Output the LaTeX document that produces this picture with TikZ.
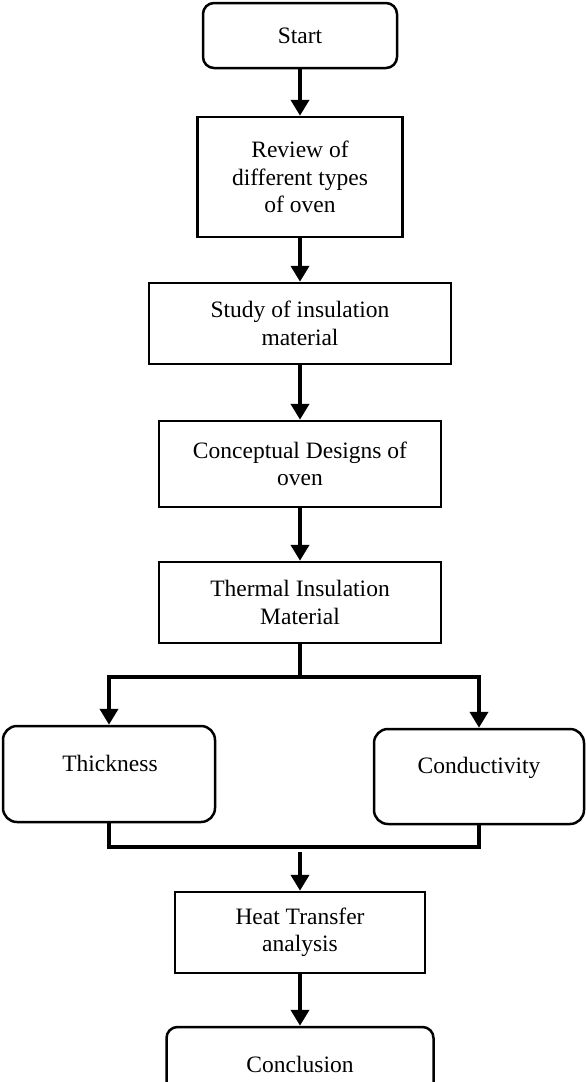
\documentclass[tikz,border=0pt]{standalone}
\usepackage{fontspec}
\setmainfont{Liberation Serif}
\usetikzlibrary{arrows.meta}

\begin{document}
\begin{tikzpicture}[x=1pt,y=-1pt,
    every node/.style={font=\fontsize{23.5}{27.5}\selectfont},
    stepbox/.style={draw, line width=2.5pt, align=center, inner sep=0pt},
    roundbox/.style={stepbox, rounded corners=11pt},
    flow/.style={line width=4pt, -{Triangle[width=18pt,length=16pt]}},
    link/.style={line width=3.2pt}]

      % keep the page at the size of the chart
      \clip (0,0) rectangle (586,1082);

      % main column of steps
      \node[roundbox, minimum width=194, minimum height=65] (start) at (300,35.5) {Start};
      \node[stepbox, minimum width=205, minimum height=120] (review) at (300,177)
        {Review of\\different types\\of oven};
      \node[stepbox, minimum width=302, minimum height=81] (study) at (300,323.5)
        {Study of insulation\\material};
      \node[stepbox, minimum width=282, minimum height=86] (concept) at (300,464)
        {Conceptual Designs of\\oven};
      \node[stepbox, minimum width=282, minimum height=81] (thermal) at (300,602.5)
        {Thermal Insulation\\Material};

      % the two branches
      \node[roundbox, rounded corners=14pt, minimum width=212, minimum height=96] (thick) at (109,774) {};
      \node (thicktext) at (110,763) {Thickness};
      \node[roundbox, rounded corners=14pt, minimum width=210, minimum height=95] (cond) at (479,776.5) {};
      \node (condtext) at (479,768) {Conductivity};

      % end of the chart
      \node[stepbox, minimum width=250, minimum height=81] (heat) at (300,932.5)
        {Heat Transfer\\analysis};
      \node[roundbox, minimum width=267, minimum height=74] (concl) at (300,1064) {Conclusion};

      %Now draw the arrows
      \draw[flow] (start) -- (review);
      \draw[flow] (review) -- (study);
      \draw[flow] (study) -- (concept);
      \draw[flow] (concept) -- (thermal);

      %% split into thickness and conductivity
      \coordinate (split) at (300,677);
      \draw[link] (thermal) -- (split);
      \draw[flow] (split) -| (thick);
      \draw[flow] (split) -| (cond);

      %% join them again below
      \coordinate (join) at (300,847);
      \draw[link] (thick.south) |- (join) -| (cond.south);
      \coordinate (merge) at (300,852);
      \draw[flow] (merge) -- (heat);
      \draw[flow] (heat) -- (concl);

    \end{tikzpicture}
\end{document}
